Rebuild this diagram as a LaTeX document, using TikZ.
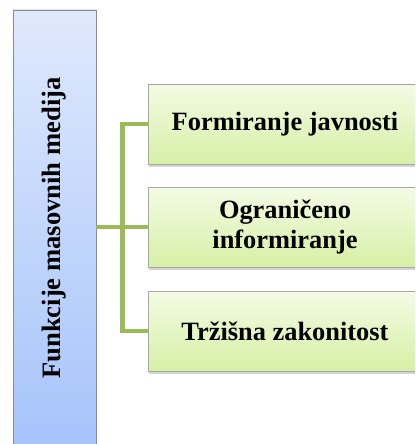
\documentclass[tikz,border=0pt]{standalone}
\usepackage{fontspec}
\setmainfont{Liberation Serif}
\usetikzlibrary{shadows}
\begin{document}
\begin{tikzpicture}[x=1pt,y=-1pt,
  mainbox/.style={draw=black!45, line width=0.8pt, top color={rgb,255:red,223;green,233;blue,252}, bottom color={rgb,255:red,166;green,196;blue,251},
     minimum width=83pt, minimum height=436pt, inner sep=0pt, font=\bfseries\fontsize{26.6}{30}\selectfont},
  itembox/.style={draw=black!35, line width=0.6pt, top color={rgb,255:red,244;green,251;blue,229}, bottom color={rgb,255:red,214;green,240;blue,166},
     minimum width=274pt, minimum height=80pt, inner sep=0pt, align=center,
     font=\bfseries\fontsize{26.4}{30}\selectfont,
     drop shadow={shadow xshift=1pt, shadow yshift=-2.5pt, opacity=0.35}},
  conn/.style={draw={rgb,255:red,155;green,187;blue,89}, line width=4.5pt}]
\useasboundingbox (0,0) rectangle (415,444);
\clip (0,0) rectangle (415,444);
\node[mainbox] (main) at (54.5,228) {\rotatebox{90}{Funkcije masovnih medija}};
\node[itembox] (b1) at (285,124) {Formiranje javnosti};
\node[itembox] (b2) at (285,227) {Ograničeno\\informiranje};
\node[itembox] (b3) at (285,331) {Tržišna zakonitost};
\coordinate (bus) at (122.5,0);
\draw[conn] (b1.west) -- (bus |- b1.west) -- (bus |- b3.west) -- (b3.west);
\draw[conn] (main.east |- b2.west) -- (b2.west);
\end{tikzpicture}
\end{document}
